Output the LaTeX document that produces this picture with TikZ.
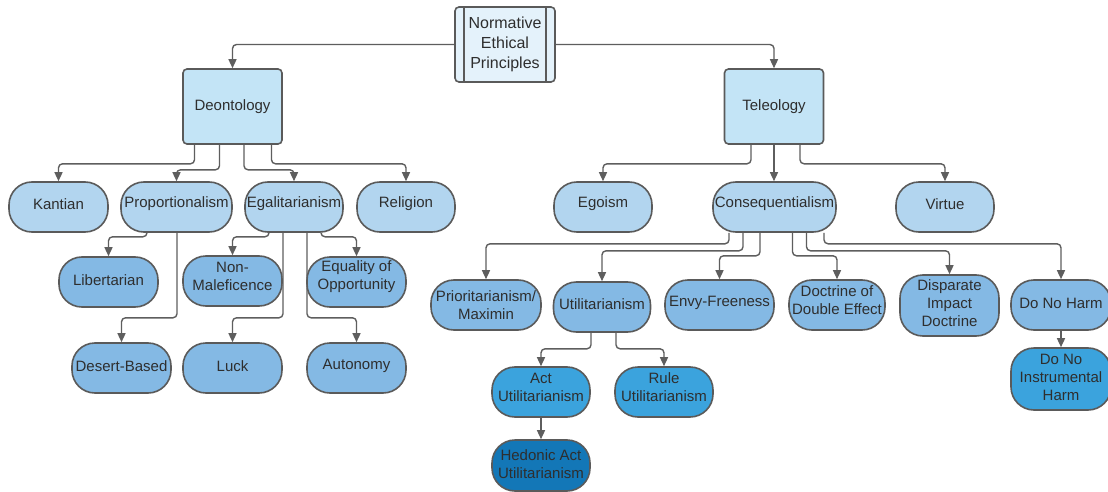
\documentclass[tikz,border=0pt]{standalone}
\usepackage{fontspec}
\setmainfont{Liberation Sans}
\usetikzlibrary{arrows.meta}
\definecolor{bordc}{HTML}{5A5A5A}
\definecolor{linec}{HTML}{5E5E5E}
\definecolor{txtc}{HTML}{2E2E2E}
\definecolor{c0}{HTML}{E4F2FB}
\definecolor{c1}{HTML}{C3E4F6}
\definecolor{c2}{HTML}{B2D5EF}
\definecolor{c3}{HTML}{84B9E4}
\definecolor{c4}{HTML}{3BA3DD}
\definecolor{c5}{HTML}{1377B7}
\begin{document}
\begin{tikzpicture}[x=1pt,y=-1pt,
  base/.style={draw=bordc, line width=1.6pt, inner sep=0pt},
  lblst/.style={align=center, text=txtc, inner sep=0pt, font=\fontsize{15}{18}\selectfont},
  tx/.style 2 args={label={[lblst, yshift=#1]center:{#2}}},
  pill/.style={base, rounded corners=23pt, minimum height=50pt},
  rbox/.style={base, rounded corners=4pt, fill=c1, minimum width=99pt, minimum height=75pt},
  topbox/.style={base, rounded corners=4pt, fill=c0, minimum width=100pt, minimum height=75pt},
  arr/.style={draw=linec, line width=1.4pt, rounded corners=4pt, -{Triangle[length=9pt,width=8pt]}},
]
\useasboundingbox (0,0) rectangle (1108,492);
\fill[white] (0,0) rectangle (1108,492);

% top
\node[topbox, label={[lblst, font=\fontsize{16}{20}\selectfont]center:{Normative\\Ethical\\Principles}}] (top) at (505,44.5) {};
\draw[draw=bordc, line width=1.6pt] ([xshift=10pt]top.north west) -- ([xshift=10pt]top.south west);
\draw[draw=bordc, line width=1.6pt] ([xshift=-10pt]top.north east) -- ([xshift=-10pt]top.south east);

\node[rbox, tx={0pt}{Deontology}] (deon) at (232.5,106.5) {};
\node[rbox, tx={0pt}{Teleology}] (tele) at (774,106.5) {};

% row 1
\node[pill, fill=c2, minimum width=99pt, tx={3pt}{Kantian}] (kant) at (58.5,207) {};
\node[pill, fill=c2, minimum width=111pt, tx={3pt}{Proportionalism}] (prop) at (176.5,207) {};
\node[pill, fill=c2, minimum width=98pt, tx={3pt}{Egalitarianism}] (egal) at (294,207) {};
\node[pill, fill=c2, minimum width=98pt, tx={3pt}{Religion}] (rel) at (406,207) {};
\node[pill, fill=c2, minimum width=98pt, tx={3pt}{Egoism}] (ego) at (603,207) {};
\node[pill, fill=c2, minimum width=123pt, tx={3pt}{Consequentialism}] (cons) at (774.5,207) {};
\node[pill, fill=c2, minimum width=98pt, tx={3pt}{Virtue}] (virt) at (945,207) {};

% deontology subtree
\node[pill, fill=c3, minimum width=99pt, tx={2pt}{Libertarian}] (lib) at (108.5,282) {};
\node[pill, fill=c3, minimum width=99pt, tx={5pt}{Non-\\Maleficence}] (nonm) at (232.5,281) {};
\node[pill, fill=c3, minimum width=99pt, tx={5pt}{Equality of\\Opportunity}] (eqop) at (356.5,282) {};
\node[pill, fill=c3, minimum width=99pt, tx={2pt}{Desert-Based}] (des) at (121.5,368) {};
\node[pill, fill=c3, minimum width=99pt, tx={2pt}{Luck}] (luck) at (232.5,368) {};
\node[pill, fill=c3, minimum width=99pt, tx={2pt}{Autonomy}] (aut) at (356.5,368) {};

% consequentialism subtree
\node[pill, fill=c3, minimum width=110pt, tx={0pt}{Prioritarianism/\\Maximin}] (prio) at (486,305) {};
\node[pill, fill=c3, minimum width=97pt, tx={3pt}{Utilitarianism}] (util) at (602,307) {};
\node[pill, fill=c3, minimum width=109pt, tx={2pt}{Envy-Freeness}] (envy) at (719.5,305) {};
\node[pill, fill=c3, minimum width=96pt, tx={5pt}{Doctrine of\\Double Effect}] (dde) at (837,305) {};
\node[pill, fill=c3, minimum width=99pt, minimum height=61pt, tx={2pt}{Disparate\\Impact\\Doctrine}] (dis) at (949.5,305.5) {};
\node[pill, fill=c3, minimum width=100pt, tx={2pt}{Do No Harm}] (dnh) at (1061,305) {};

\node[pill, fill=c4, minimum width=98pt, tx={5pt}{Act\\Utilitarianism}] (act) at (541,392) {};
\node[pill, fill=c4, minimum width=98pt, tx={5pt}{Rule\\Utilitarianism}] (rule) at (664,392) {};
\node[pill, fill=c4, minimum width=100pt, minimum height=62pt, tx={2pt}{Do No\\Instrumental\\Harm}] (dnih) at (1061,379) {};
\node[pill, fill=c5, minimum width=98pt, minimum height=51pt, tx={1.5pt}{Hedonic Act\\Utilitarianism}] (hed) at (541,465.5) {};

% connectors: top
\draw[arr] (top.west) -| (deon.north);
\draw[arr] (top.east) -| (tele.north);

% deontology
\draw[arr] ([xshift=-38pt]deon.south) -- ++(0,19) -| (kant.north);
\draw[arr] ([xshift=-13pt]deon.south) -- ++(0,25) -| (prop.north);
\draw[arr] ([xshift=11.5pt]deon.south) -- ++(0,25) -| (egal.north);
\draw[arr] ([xshift=39pt]deon.south) -- ++(0,19) -| (rel.north);

% teleology
\draw[arr] ([xshift=-23pt]tele.south) -- ++(0,19) -| (ego.north);
\draw[arr] (tele.south) -- (tele.south |- cons.north);
\draw[arr] ([xshift=26pt]tele.south) -- ++(0,19) -| (virt.north);

% proportionalism
\draw[arr] ([xshift=-29.5pt]prop.south) -- ++(0,4) -| (lib.north);
\draw[arr] ([xshift=0.5pt]prop.south) -- ++(0,85) -| (des.north);

% egalitarianism
\draw[arr] ([xshift=-25pt]egal.south) -- ++(0,4) -| (nonm.north);
\draw[arr] ([xshift=-11pt]egal.south) -- ++(0,85) -| (luck.north);
\draw[arr] ([xshift=13pt]egal.south) -- ++(0,85) -| (aut.north);
\draw[arr] ([xshift=27pt]egal.south) -- ++(0,4) -| (eqop.north);

% consequentialism
\draw[arr] ([xshift=-45.5pt]cons.south) -- ++(0,11) -| (prio.north);
\draw[arr] ([xshift=-31.5pt]cons.south) -- ++(0,18) -| (util.north);
\draw[arr] ([xshift=-14.5pt]cons.south) -- ++(0,23) -| (envy.north);
\draw[arr] ([xshift=18pt]cons.south) -- ++(0,23) -| (dde.north);
\draw[arr] ([xshift=32pt]cons.south) -- ++(0,18) -| (dis.north);
\draw[arr] ([xshift=49.5pt]cons.south) -- ++(0,11) -| (dnh.north);

% utilitarianism
\draw[arr] ([xshift=-11pt]util.south) -- ++(0,16) -| (act.north);
\draw[arr] ([xshift=14pt]util.south) -- ++(0,16) -| (rule.north);
\draw[arr] (act.south) -- (hed.north);
\draw[arr] (dnh.south) -- (dnih.north);
\end{tikzpicture}
\end{document}
